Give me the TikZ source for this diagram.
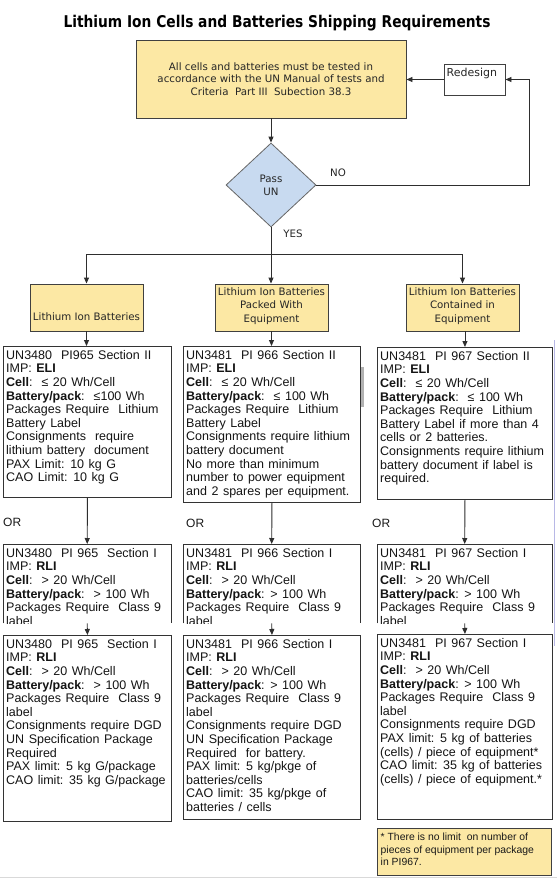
\documentclass[tikz,border=0pt]{standalone}
\usepackage{fontspec}
\setmainfont{Liberation Sans}
\newfontfamily\tahoma{DejaVu Sans}
\usepackage{graphicx}
\usetikzlibrary{shapes.geometric,arrows.meta}
\definecolor{boxyellow}{HTML}{FCE8A4}
\definecolor{diamblue}{HTML}{C8DAF0}
\definecolor{linegray}{HTML}{2E2E2E}
\definecolor{artblue}{HTML}{B8B8E6}
\newcommand{\firststrut}{\rule{0pt}{10pt}}
\newcommand{\ctfont}{\fontsize{12.5}{13.6}\selectfont\spaceskip=0.36em plus 0.1em\relax}
\begin{document}
\begin{tikzpicture}[x=1pt,y=-1pt,
  conn/.style={draw=linegray, line width=0.9pt},
  arr/.style={conn, -{Triangle[length=6pt,width=5pt]}},
  ybox/.style={draw=black!75, fill=boxyellow, line width=0.9pt, inner sep=0pt},
  ytext/.style={font=\tahoma\fontsize{10.25}{13.4}\selectfont, text=black!85, align=center, inner sep=0pt},
  cbox/.style={draw=black!80, line width=0.9pt, inner sep=0pt, anchor=north west},
  ctext/.style={font=\ctfont, align=left, inner sep=0pt, anchor=north west, text=black!92},
  lbl/.style={font=\tahoma\fontsize{10.25}{13}\selectfont, text=black!85, inner sep=0pt},
  orl/.style={font=\fontsize{12}{14}\selectfont, text=black!90, inner sep=0pt, anchor=west}
  ]
\fill[white] (0,0) rectangle (557,879);
\useasboundingbox (0,0) rectangle (557,879);

% title
\node[inner sep=0pt, anchor=base] (title) at (277,27.5) {\resizebox{427pt}{12.3pt}{\tahoma\bfseries Lithium Ion Cells and Batteries Shipping Requirements}};

% top box
\node[ybox, minimum width=270pt, minimum height=78pt] (top) at (271,79) {};
\node[ytext, font=\tahoma\fontsize{10.25}{12.6}\selectfont] (toptext) at (top.center) {All cells and batteries must be tested in\\accordance with the UN Manual of tests and\\Criteria\ \ Part III\ \ Subection 38.3};

% redesign
\node[draw=black!75, line width=0.9pt, fill=white, minimum width=61pt, minimum height=31pt, inner sep=0pt] (rd) at (474.5,79.5) {};
\node[lbl, font=\tahoma\fontsize{11}{13}\selectfont, anchor=west] (rdt) at (446.5,73) {Redesign};

% diamond
\node[shape=diamond, draw=black!60, fill=diamblue, line width=0.8pt, minimum width=90pt, minimum height=84pt, inner sep=0pt, align=center, font=\tahoma\fontsize{10.25}{13}\selectfont, text=black!85] (d) at (271,185) {Pass\\UN};
\node[lbl] (no) at (338,173) {NO};
\node[lbl] (yes) at (293,234) {YES};

% headers
\node[ybox, minimum width=113pt, minimum height=47pt] (h1) at (86.5,307.5) {};
\node[ybox, minimum width=113pt, minimum height=47pt] (h2) at (271.5,307.5) {};
\node[ybox, minimum width=113pt, minimum height=47pt] (h3) at (462.5,307.5) {};
\node[ytext] (h1t) at (86.5,317) {Lithium Ion Batteries};
\node[ytext] (h2t) at (271.5,306) {Lithium Ion Batteries\\Packed With\\Equipment};
\node[ytext] (h3t) at (462.5,306) {Lithium Ion Batteries\\Contained in\\Equipment};

% connectors top part
\coordinate (rc) at (529,185);
\coordinate (br) at (271,254);
\draw[arr] (rd.west) -- (rd.west -| top.east);
\draw[arr] (d.east) -- (rc) |- (rd.east);
\draw[arr] (top.south -| d.north) -- (d.north);
\draw[conn] (d.south) -- (br);
\draw[arr] (br) -- (br |- h2.north);
\draw[arr] (br) -| (h1.north);
\draw[arr] (br) -| (h3.north);

% content boxes
\node[cbox, minimum width=168pt, minimum height=151pt] (c1) at (3,346) {};
\node[cbox, minimum width=177pt, minimum height=156pt] (c2) at (183,346) {};
\node[cbox, minimum width=175pt, minimum height=152pt] (c3) at (377,347) {};

\node[ctext] (c1t) at ([shift={(3,3)}]c1.north west) {\firststrut UN3480\ \ PI965 Section II\\IMP: \textbf{ELI}\\\textbf{Cell}:\ \ ≤ 20 Wh/Cell\\\textbf{Battery/pack}:\ \ ≤100 Wh\\Packages Require\ \ Lithium\\Battery Label\\Consignments\ \ require\\lithium battery\ \ document\\PAX Limit: 10 kg G\\CAO Limit: 10 kg G};
\node[ctext] (c2t) at ([shift={(3,3)}]c2.north west) {\firststrut UN3481\ \ PI 966 Section II\\IMP: \textbf{ELI}\\\textbf{Cell}:\ \ ≤ 20 Wh/Cell\\\textbf{Battery/pack}:\ \ ≤ 100 Wh\\Packages Require\ \ Lithium\\Battery Label\\Consignments require lithium\\battery document\\No more than minimum\\number to power equipment\\and 2 spares per equipment.};
\node[ctext] (c3t) at ([shift={(3,3)}]c3.north west) {\firststrut UN3481\ \ PI 967 Section II\\IMP: \textbf{ELI}\\\textbf{Cell}:\ \ ≤ 20 Wh/Cell\\\textbf{Battery/pack}:\ \ ≤ 100 Wh\\Packages Require\ \ Lithium\\Battery Label if more than 4\\cells or 2 batteries.\\Consignments require lithium\\battery document if label is\\required.};

% OR labels
\node[orl] (or1) at (3,522) {OR};
\node[orl] (or2) at (186,523) {OR};
\node[orl] (or3) at (372,523) {OR};

% middle boxes (open at bottom, text clipped)
\node[inner sep=0pt, anchor=north west, minimum width=168pt, minimum height=79pt] (m1) at (3,544) {};
\node[inner sep=0pt, anchor=north west, minimum width=177pt, minimum height=79pt] (m2) at (183,544) {};
\node[inner sep=0pt, anchor=north west, minimum width=175pt, minimum height=79pt] (m3) at (377,544) {};
\draw[draw=black!80, line width=0.9pt] (m1.south west) -- (m1.north west) -- (m1.north east) -- (m1.south east);
\draw[draw=black!80, line width=0.9pt] (m2.south west) -- (m2.north west) -- (m2.north east) -- (m2.south east);
\draw[draw=black!80, line width=0.9pt] (m3.south west) -- (m3.north west) -- (m3.north east) -- (m3.south east);
\begin{scope}
\clip (m1.south west) rectangle (m1.north east);
\node[ctext] (m1t) at ([shift={(3,3)}]m1.north west) {\firststrut UN3480\ \ PI 965\ \ Section I\\IMP: \textbf{RLI}\\\textbf{Cell}:\ \ > 20 Wh/Cell\\\textbf{Battery/pack}:\ \ > 100 Wh\\Packages Require\ \ Class 9\\label};
\end{scope}
\begin{scope}
\clip (m2.south west) rectangle (m2.north east);
\node[ctext] (m2t) at ([shift={(3,3)}]m2.north west) {\firststrut UN3481\ \ PI 966 Section I\\IMP: \textbf{RLI}\\\textbf{Cell}:\ \ > 20 Wh/Cell\\\textbf{Battery/pack}: > 100 Wh\\Packages Require\ \ Class 9\\label};
\end{scope}
\begin{scope}
\clip (m3.south west) rectangle (m3.north east);
\node[ctext] (m3t) at ([shift={(3,3)}]m3.north west) {\firststrut UN3481\ \ PI 967 Section I\\IMP: \textbf{RLI}\\\textbf{Cell}:\ \ > 20 Wh/Cell\\\textbf{Battery/pack}: > 100 Wh\\Packages Require\ \ Class 9\\label};
\end{scope}

% bottom boxes
\node[cbox, minimum width=168pt, minimum height=186pt] (b1) at (3,635) {};
\node[cbox, minimum width=177pt, minimum height=184pt] (b2) at (183,635) {};
\node[cbox, minimum width=175pt, minimum height=185pt] (b3) at (377,634) {};
\node[ctext] (b1t) at ([shift={(3,3)}]b1.north west) {\firststrut UN3480\ \ PI 965\ \ Section I\\IMP: \textbf{RLI}\\\textbf{Cell}:\ \ > 20 Wh/Cell\\\textbf{Battery/pack}:\ \ > 100 Wh\\Packages Require\ \ Class 9\\label\\Consignments require DGD\\UN Specification Package\\Required\\PAX limit: 5 kg G/package\\CAO limit: 35 kg G/package};
\node[ctext] (b2t) at ([shift={(3,3)}]b2.north west) {\firststrut UN3481\ \ PI 966 Section I\\IMP: \textbf{RLI}\\\textbf{Cell}:\ \ > 20 Wh/Cell\\\textbf{Battery/pack}: > 100 Wh\\Packages Require\ \ Class 9\\label\\Consignments require DGD\\UN Specification Package\\Required\ \ for battery.\\PAX limit: 5 kg/pkge of\\batteries/cells\\CAO limit: 35 kg/pkge of\\batteries / cells};
\node[ctext] (b3t) at ([shift={(3,3)}]b3.north west) {\firststrut UN3481\ \ PI 967 Section I\\IMP: \textbf{RLI}\\\textbf{Cell}:\ \ > 20 Wh/Cell\\\textbf{Battery/pack}: > 100 Wh\\Packages Require\ \ Class 9\\label\\Consignments require DGD\\PAX limit: 5 kg of batteries\\(cells) / piece of equipment*\\CAO limit: 35 kg of batteries\\(cells) / piece of equipment.*};

% footnote
\node[ybox, anchor=north west, minimum width=174pt, minimum height=47pt] (fn) at (377,828) {};
\node[inner sep=0pt, anchor=north west, align=left, font=\fontsize{10.4}{12.5}\selectfont, text=black!90] (fnt) at (380.5,832) {\rule{0pt}{8.5pt}* There is no limit\ \ on number of\\pieces of equipment per package\\in PI967.};

% vertical connectors in columns
\draw[arr] (h1.south) -- (h1.south |- c1.north);
\draw[arr] (h2.south) -- (h2.south |- c2.north);
\draw[arr] (h3.south -| c3.north) -- (c3.north);
\draw[arr] (c1.south) -- (m1.north);
\draw[arr] (c2.south) -- (m2.north);
\draw[arr] (c3.south) -- (m3.north);
\draw[arr] (m1.south) -- (b1.north);
\draw[arr] (m2.south) -- (b2.north);
\draw[arr] (m3.south) -- (b3.north);

% small marks visible in the picture
\fill[gray!60] (361,367) rectangle (363.5,407);
\draw[artblue, line width=0.8pt] (554,340) -- (554,646);
\draw[gray!30, line width=0.8pt] (0,877.5) -- (557,877.5);
\end{tikzpicture}
\end{document}
